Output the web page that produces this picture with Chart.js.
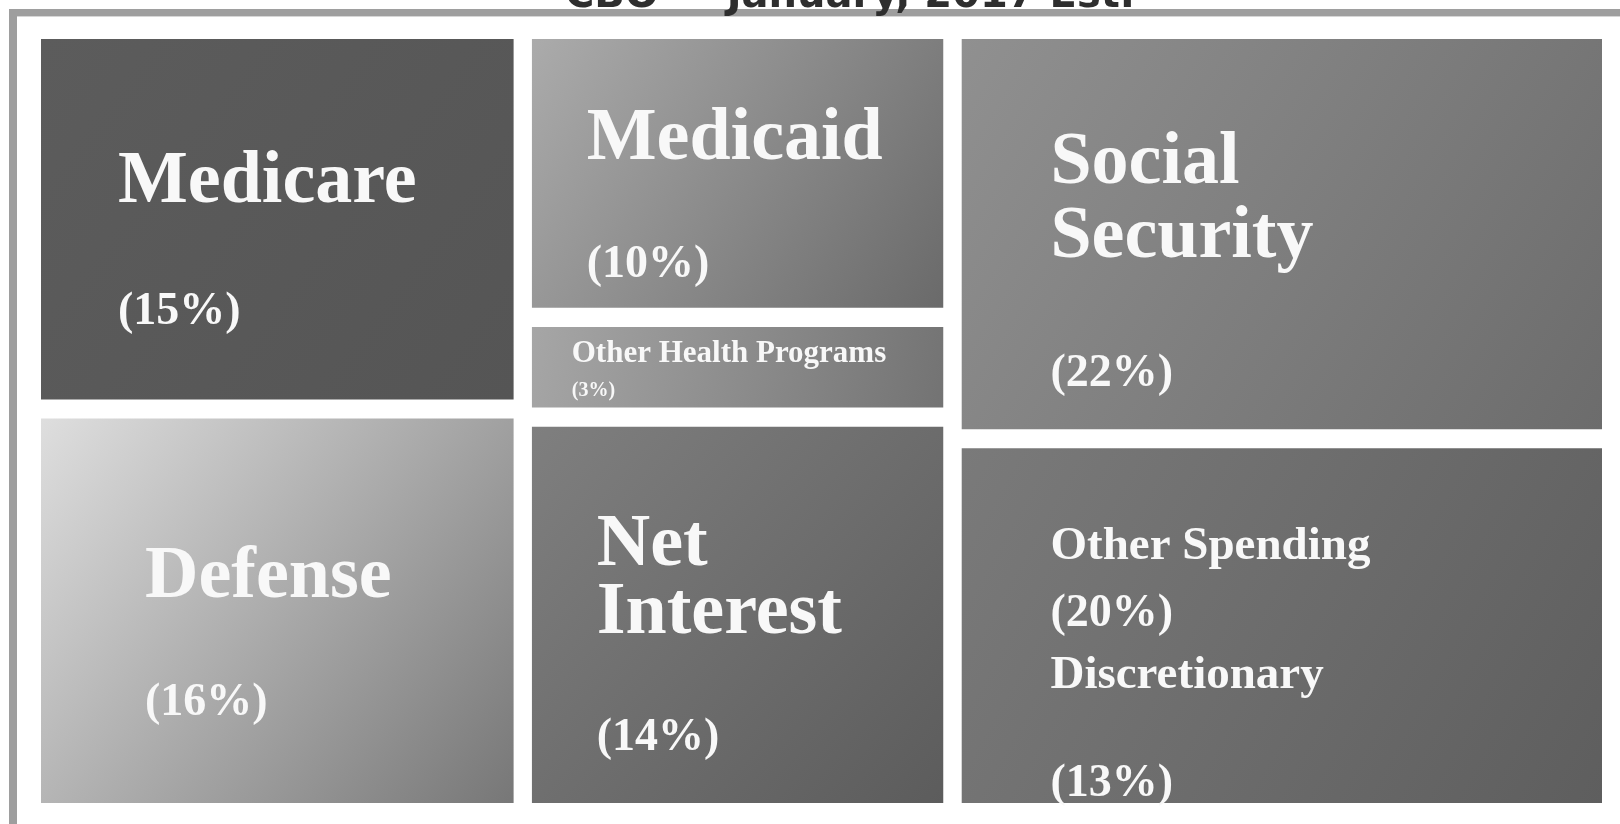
<!DOCTYPE html>
<html>
<head>
<meta charset="utf-8">
<script src="https://cdn.jsdelivr.net/npm/chart.js@4.4.1/dist/chart.umd.min.js"></script>
<style>
  html, body { margin: 0; padding: 0; background: #ffffff; }
  #c { display: block; }
</style>
</head>
<body>
<canvas id="c" width="1620" height="824" style="width:1620px;height:824px"></canvas>
<script>
// ---------------- DATA ----------------
const titleText = 'CBO \u2014 January, 2017 Est.';
const categories = ['Medicare', 'Defense', 'Medicaid', 'Other Health Programs', 'Net Interest', 'Social Security', 'Other Spending'];
const shares = [15, 16, 10, 3, 14, 22, 20];          // % of outlays
const columns = [0, 0, 1, 1, 1, 2, 2];               // treemap column of each category
const subCategories = ['Discretionary'];             // shown inside "Other Spending"
const subShares = [13];

// ---------------- LAYOUT (treemap, proportional to shares) ----------------
const GAP_X = 1.15, GAP_Y = 2.5;   // gaps in axis units
const nCols = Math.max(...columns) + 1;
const colSum = new Array(nCols).fill(0);
shares.forEach((v, i) => colSum[columns[i]] += v);
const total = colSum.reduce((a, b) => a + b, 0);
const rects = [];
let cx = 0;
for (let c = 0; c < nCols; c++) {
  const w = (100 - GAP_X * (nCols - 1)) * colSum[c] / total;
  const idx = categories.map((_, i) => i).filter(i => columns[i] === c);
  const avail = 100 - GAP_Y * (idx.length - 1);
  let cy = 0;
  idx.forEach(i => {
    const h = avail * shares[i] / colSum[c];
    rects[i] = { x0: cx, x1: cx + w, y0: cy, y1: cy + h };
    cy += h + GAP_Y;
  });
  cx += w + GAP_X;
}

// ---------------- STYLE ----------------
const fills = [
  ['#5c5c5c', '#555555'], // Medicare
  ['#dedede', '#777777'], // Defense
  ['#ababab', '#6a6a6a'], // Medicaid
  ['#a6a6a6', '#737373'], // Other Health Programs
  ['#7f7f7f', '#5c5c5c'], // Net Interest
  ['#909090', '#6c6c6c'], // Social Security
  ['#7a7a7a', '#5e5e5e']  // Other Spending
];
const labelStyle = [
  { dx: 77,  lines: [['name', 74, 0.453], ['pct', 46, 0.792]] },
  { dx: 104, lines: [['name', 74, 0.465], ['pct', 46, 0.772]] },
  { dx: 55,  lines: [['name', 74, 0.448], ['pct', 46, 0.884]] },
  { dx: 40,  lines: [['name', 31, 0.44], ['pct', 20, 0.86]] },
  { dx: 65,  lines: [['w0', 74, 0.367], ['w1', 74, 0.548], ['pct', 46, 0.86]] },
  { dx: 89,  lines: [['w0', 74, 0.368], ['w1', 74, 0.558], ['pct', 46, 0.89]] },
  { dx: 89,  lines: [['name', 47, 0.312], ['pct', 46, 0.501], ['sub', 47, 0.677], ['subpct', 46, 0.981]] }
];

function rectPx(chart, i) {
  const xs = chart.scales.x, ys = chart.scales.y, r = rects[i];
  return {
    left: xs.getPixelForValue(r.x0), right: xs.getPixelForValue(r.x1),
    top: ys.getPixelForValue(r.y0), bottom: ys.getPixelForValue(r.y1)
  };
}
function gradFor(chart, i) {
  if (!chart.chartArea || !chart.scales.x) return fills[i][0];
  const p = rectPx(chart, i);
  const g = chart.ctx.createLinearGradient(p.left, p.top, p.right, p.bottom);
  g.addColorStop(0, fills[i][0]);
  g.addColorStop(1, fills[i][1]);
  return g;
}

const datasets = categories.map((name, i) => ({
  label: name,
  data: [{ x: rects[i].x0, y: rects[i].y0 }, { x: rects[i].x1, y: rects[i].y0 }],
  fill: { value: rects[i].y1 },
  borderWidth: 0,
  borderColor: 'rgba(0,0,0,0)',
  pointRadius: 0,
  pointHoverRadius: 0,
  tension: 0,
  backgroundColor: (ctx) => gradFor(ctx.chart, i)
}));

const framePlugin = {
  id: 'frame',
  beforeDraw(chart) {
    const ctx = chart.ctx;
    ctx.save();
    ctx.fillStyle = '#ffffff';
    ctx.fillRect(0, 0, chart.width, chart.height);
    ctx.fillStyle = '#9e9e9e';
    ctx.fillRect(9, 9, chart.width - 9, 7);
    ctx.fillRect(9, 9, 8, chart.height - 9);
    ctx.fillStyle = '#d6d6d6';
    ctx.fillRect(17, 16, chart.width - 17, 1);
    ctx.restore();
  },
  afterDraw(chart) {
    const ctx = chart.ctx;
    ctx.save();
    ctx.fillStyle = '#2e2e2e';
    ctx.font = 'bold 40px "DejaVu Sans", Verdana, sans-serif';
    ctx.textAlign = 'center';
    ctx.textBaseline = 'alphabetic';
    ctx.fillText(titleText, 850, 7);
    ctx.restore();
  }
};

const labelPlugin = {
  id: 'cellLabels',
  afterDatasetsDraw(chart) {
    const ctx = chart.ctx;
    ctx.save();
    ctx.fillStyle = '#f8f8f8';
    ctx.textAlign = 'left';
    ctx.textBaseline = 'alphabetic';
    categories.forEach((name, i) => {
      const p = rectPx(chart, i);
      const h = p.bottom - p.top;
      const st = labelStyle[i];
      const words = name.split(' ');
      st.lines.forEach(([kind, size, fy]) => {
        let t = '';
        if (kind === 'name') t = name;
        else if (kind === 'w0') t = words[0];
        else if (kind === 'w1') t = words.slice(1).join(' ');
        else if (kind === 'pct') t = '(' + shares[i] + '%)';
        else if (kind === 'sub') t = subCategories[0];
        else if (kind === 'subpct') t = '(' + subShares[0] + '%)';
        ctx.font = 'bold ' + size + 'px "Liberation Serif", "Times New Roman", serif';
        ctx.fillText(t, p.left + st.dx, p.top + h * fy);
      });
    });
    ctx.restore();
  }
};

new Chart(document.getElementById('c'), {
  type: 'line',
  data: { datasets },
  options: {
    responsive: false,
    devicePixelRatio: 1,
    animation: false,
    events: [],
    layout: { padding: { left: 41, right: 18, top: 39, bottom: 21 } },
    scales: {
      x: { type: 'linear', min: 0, max: 100, display: false },
      y: { type: 'linear', min: 0, max: 100, reverse: true, display: false }
    },
    plugins: {
      legend: { display: false },
      title: { display: false },
      tooltip: { enabled: false }
    }
  },
  plugins: [framePlugin, labelPlugin]
});
</script>
</body>
</html>
